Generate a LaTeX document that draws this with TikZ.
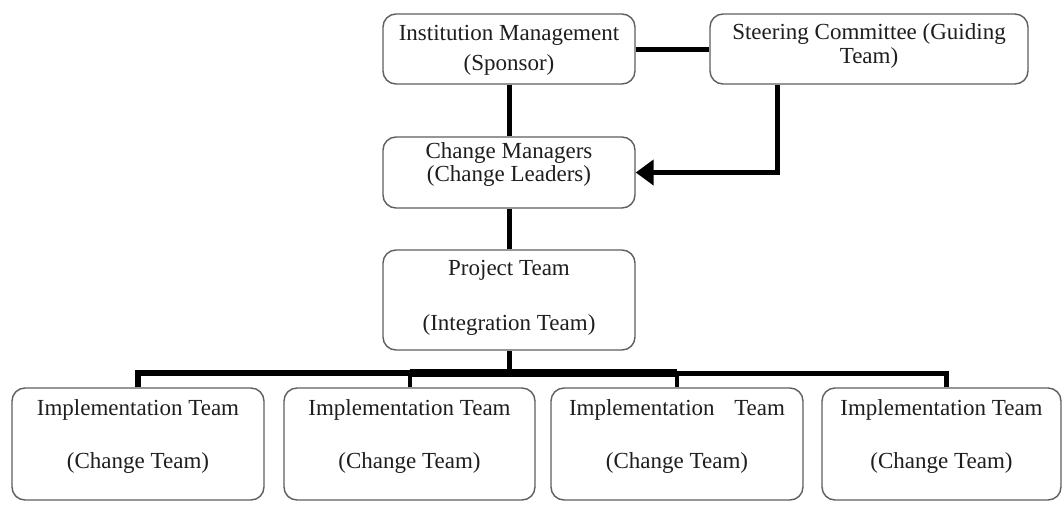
\documentclass[tikz,border=0pt]{standalone}
\usepackage{fontspec}
\setmainfont{Liberation Serif}
\usetikzlibrary{arrows.meta}
\definecolor{boxgray}{RGB}{95,95,95}
\definecolor{textc}{RGB}{30,30,30}
\begin{document}
\begin{tikzpicture}[x=1pt,y=-1pt,
  box/.style={draw=boxgray, line width=1.4pt, rounded corners=13pt, inner sep=0pt, fill=white},
  lbl/.style={anchor=base, inner sep=0pt, font=\fontsize{23}{26}\selectfont, text=textc},
  conn/.style={line width=5pt, draw=black, line join=miter}]
\useasboundingbox (0,0) rectangle (1063,504);
\fill[white] (0,0) rectangle (1063,504);

% boxes
\node[box, minimum width=252pt, minimum height=70pt] (inst) at (509,49) {};
\node[box, minimum width=318pt, minimum height=70pt] (steer) at (869,49) {};
\node[box, minimum width=252pt, minimum height=71pt] (cm) at (509,172.5) {};
\node[box, minimum width=252pt, minimum height=100pt] (proj) at (509,300) {};
\node[box, minimum width=252pt, minimum height=112pt] (b1) at (138,444) {};
\node[box, minimum width=251pt, minimum height=112pt] (b2) at (409.5,444) {};
\node[box, minimum width=252pt, minimum height=112pt] (b3) at (677,444) {};
\node[box, minimum width=239pt, minimum height=112pt] (b4) at (941.5,444) {};

% labels
\node[lbl] (inst1) at (509,40) {Institution Management};
\node[lbl] (inst2) at (509,70) {(Sponsor)};
\node[lbl] (steer1) at (869,39) {Steering Committee (Guiding};
\node[lbl] (steer2) at (869,63) {Team)};
\node[lbl] (cm1) at (509,158) {Change Managers};
\node[lbl] (cm2) at (509,181) {(Change Leaders)};
\node[lbl] (proj1) at (509,275) {Project Team};
\node[lbl] (proj2) at (509,330) {(Integration Team)};
\node[lbl] (b1a) at (138,415) {Implementation Team};
\node[lbl] (b1b) at (138,468) {(Change Team)};
\node[lbl] (b2a) at (409.5,415) {Implementation Team};
\node[lbl] (b2b) at (409.5,468) {(Change Team)};
\node[lbl] (b3a) at (677,415) {Implementation\hspace{0.6em} Team};
\node[lbl] (b3b) at (677,468) {(Change Team)};
\node[lbl] (b4a) at (941.5,415) {Implementation Team};
\node[lbl] (b4b) at (941.5,468) {(Change Team)};

% connectors
\coordinate (bus) at (509,373);
\coordinate (sdrop) at ([xshift=-92pt]steer.south);
\coordinate (b4n) at ([xshift=4.5pt]b4.north);

\draw[conn] (inst.east) -- (steer.west);
\draw[conn] (inst.south) -- (cm.north);
\draw[conn, -{Triangle[length=18pt,width=25pt]}] (sdrop) |- (cm.east);
\draw[conn] (cm.south) -- (proj.north);
\draw[conn] (proj.south) -- (bus);
\draw[conn, line width=5.5pt] (b1.north) |- (b2.north |- bus);
\draw[conn, line width=8pt] (b2.north |- bus) -- (b3.north |- bus);
\draw[conn] (b4n) |- (b3.north |- bus);
\draw[conn, line width=4pt] (b2.north |- bus) -- (b2.north);
\draw[conn, line width=4pt] (b3.north |- bus) -- (b3.north);
\end{tikzpicture}
\end{document}
